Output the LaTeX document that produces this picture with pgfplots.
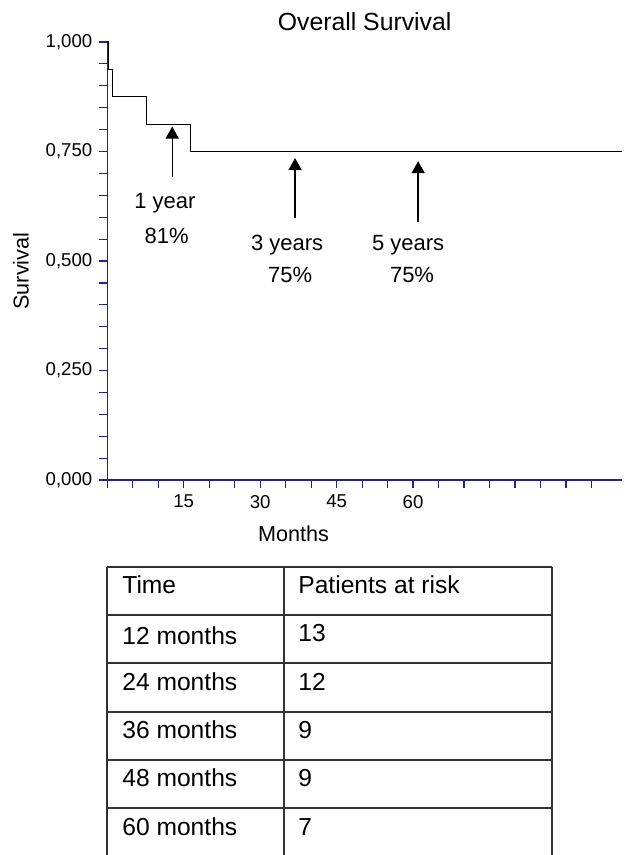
\documentclass[border=0pt]{standalone}
\usepackage{pgfplots}
\pgfplotsset{compat=1.18}
\usepackage{fontspec}
\setmainfont{Liberation Sans}
\usetikzlibrary{arrows.meta}
\definecolor{axblue}{RGB}{35,35,150}
\definecolor{tabline}{RGB}{50,50,50}
\begin{document}
\begin{tikzpicture}[x=0.5pt,y=-0.5pt]
\useasboundingbox (0,0) rectangle (625,855);
\coordinate (AO) at (107.3,480);
\begin{axis}[
  at={(AO)}, anchor=south west,
  scale only axis, width=257.35pt, height=219pt,
  xmin=0, xmax=101, ymin=0, ymax=1,
  axis x line=bottom, axis y line=left,
  axis line style={-, axblue, line width=0.8pt},
  every tick/.style={axblue, line width=0.6pt},
  tick align=outside, major tick length=4pt,
  xtick={0,5,10,15,20,25,30,35,40,45,50,55,60,65,70,75,80,85,90,95},
  xticklabels={{},{},{},15,{},{},30,{},{},45,{},{},60,{},{},{},{},{},{},{}},
  ytick={0,0.05,0.1,0.15,0.2,0.25,0.3,0.35,0.4,0.45,0.5,0.55,0.6,0.65,0.7,0.75,0.8,0.85,0.9,0.95,1},
  yticklabels={{0,000},{},{},{},{},{0,250},{},{},{},{},{0,500},{},{},{},{},{0,750},{},{},{},{},{1,000}},
  /pgf/number format/assume math mode=true,
  ticklabel style={font=\fontsize{9.3}{11}\selectfont, text=black},
  title={Overall Survival},
  title style={at={(axis description cs:0.5,1.046)}, anchor=center, inner sep=0pt, yshift=-6pt, font=\fontsize{12.4}{15}\selectfont},
  xlabel={Months},
  xlabel style={at={(axis description cs:0.362,-0.123)}, anchor=center, inner sep=0pt, font=\fontsize{10.8}{13}\selectfont},
  ylabel={Survival},
  ylabel style={at={(axis description cs:-0.168,0.477)}, anchor=center, inner sep=0pt, font=\fontsize{10.8}{13}\selectfont},
  clip=false,
]
\addplot[const plot, black, line width=0.6pt] coordinates {
  (0,1) (0.2,0.9375) (1.0,0.875) (7.7,0.8125) (16.4,0.75) (101,0.75)
};
\draw[-{Triangle[width=6.5pt,length=6pt]}, line width=0.7pt] (axis cs:12.74,0.692) -- (axis cs:12.74,0.807);
\draw[-{Triangle[width=6.5pt,length=6pt]}, line width=0.7pt] (axis cs:36.85,0.598) -- (axis cs:36.85,0.735);
\draw[-{Triangle[width=6.5pt,length=6pt]}, line width=0.7pt] (axis cs:61.0,0.589) -- (axis cs:61.0,0.728);
\begin{scope}[every node/.style={inner sep=0pt, anchor=center, font=\fontsize{11}{13}\selectfont}]
\node at (axis cs:11.3,0.632) {1 year};
\node at (axis cs:11.66,0.557) {81\%};
\node at (axis cs:35.28,0.537) {3 years};
\node at (axis cs:35.87,0.468) {75\%};
\node at (axis cs:59.03,0.537) {5 years};
\node at (axis cs:59.8,0.468) {75\%};
\end{scope}
\end{axis}
% table of patients at risk
\begin{scope}[line width=0.6pt, tabline]
\draw (107,567) -- (552,567);
\foreach \yy in {615,663,712,760,808} { \draw (107,\yy) -- (552,\yy); }
\foreach \xx in {107,284,552} { \draw (\xx,567) -- (\xx,855); }
\end{scope}
\begin{scope}[every node/.style={inner sep=0pt, anchor=west, font=\fontsize{12.3}{15}\selectfont}]
\node at (122,585) {Time};
\node at (298,585) {Patients at risk};
\node at (122,636) {12 months};
\node at (298,633) {13};
\node at (122,682) {24 months};
\node at (298,682) {12};
\node at (122,730) {36 months};
\node at (298,730) {9};
\node at (122,778) {48 months};
\node at (298,778) {9};
\node at (122,827) {60 months};
\node at (298,827) {7};
\end{scope}
\end{tikzpicture}
\end{document}
